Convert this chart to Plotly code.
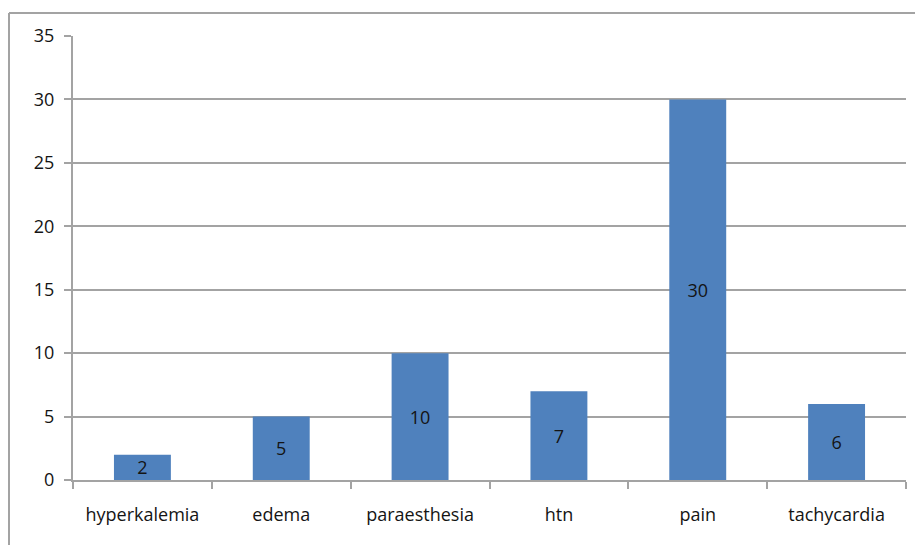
import plotly.graph_objects as go

categories = ["hyperkalemia", "edema", "paraesthesia", "htn", "pain", "tachycardia"]
counts = [2, 5, 10, 7, 30, 6]
y_ticks = [0, 5, 10, 15, 20, 25, 30, 35]

W, H = 915, 545
L, R, T, B = 73, 9, 36, 65
pw, ph = W - L - R, H - T - B

def px_to_paper_x(px):
    return (px - L) / pw

def px_to_paper_y(py):
    return (H - B - py) / ph

font = dict(family="Open Sans, sans-serif", size=18, color="#141414")
grey = "#a3a3a3"

fig = go.Figure(
    go.Bar(
        x=categories,
        y=counts,
        width=0.41,
        marker=dict(color="#4f81bd", line=dict(width=0)),
        text=[str(v) for v in counts],
        textposition="inside",
        insidetextanchor="middle",
        constraintext="none",
        textfont=font,
        textangle=0,
    )
)

fig.update_layout(
    width=W,
    height=H,
    margin=dict(l=L, r=R, t=T, b=B, pad=0),
    paper_bgcolor="white",
    plot_bgcolor="white",
    showlegend=False,
    font=font,
    xaxis=dict(
        range=[-0.5, 5.5],
        showgrid=False,
        showline=True,
        linecolor=grey,
        linewidth=2,
        ticks="outside",
        tickson="boundaries",
        ticklen=7,
        tickcolor=grey,
        tickwidth=2,
        ticklabelstandoff=17,
        tickfont=font,
        zeroline=False,
    ),
    yaxis=dict(
        range=[0, 35],
        tickvals=y_ticks,
        showgrid=True,
        gridcolor=grey,
        gridwidth=2,
        showline=True,
        linecolor=grey,
        linewidth=2,
        ticks="outside",
        ticklen=7,
        tickcolor=grey,
        tickwidth=2,
        ticklabelstandoff=6,
        tickfont=font,
        zeroline=False,
    ),
)

# chart frame (left and top edges)
x0 = px_to_paper_x(9)
y0 = px_to_paper_y(13)
fig.add_shape(type="line", xref="paper", yref="paper",
              x0=x0, x1=x0, y0=px_to_paper_y(560), y1=y0,
              line=dict(color=grey, width=2))
fig.add_shape(type="line", xref="paper", yref="paper",
              x0=x0, x1=px_to_paper_x(930), y0=y0, y1=y0,
              line=dict(color=grey, width=2))

fig.write_html("out.html")
